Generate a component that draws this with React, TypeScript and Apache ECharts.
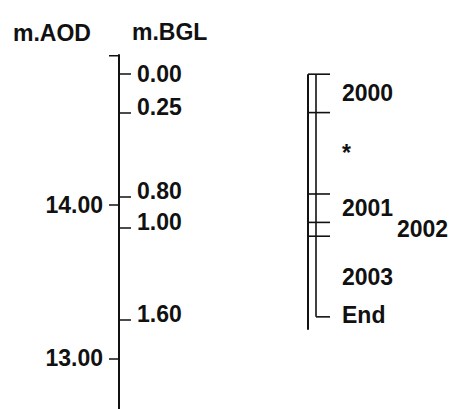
import React, { useEffect, useRef } from 'react';
import * as echarts from 'echarts';

// Ground level of the section, in metres above Ordnance Datum
const groundLevelAOD = 14.85;
// Depth range shown (metres below ground level)
const depthMin = -0.125;
const depthMax = 2.18;
// Depth ticks (m.BGL)
const bglTicks = [0, 0.25, 0.8, 1.0, 1.6];
// Level ticks (m.AOD)
const aodTicks = [14, 13];
// Dated layers: label and top depth (m.BGL)
const yearLabels = ['2000', '*', '2001', '2002', '2003'];
const yearTops = [0, 0.25, 0.78, 0.965, 1.055];
const yearEnd = 1.58;
const endLabel = 'End';

const FONT = '"Liberation Sans", Arial, Helvetica, sans-serif';
const INK = '#111';
const FS = 23;
const FW = 'bold';

export default function App() {
  const ref = useRef<HTMLDivElement>(null);
  useEffect(() => {
    if (!ref.current) return;
    const chart = echarts.init(ref.current, null, { renderer: 'svg' });
    const aodMax = groundLevelAOD - depthMin;
    const aodMin = groundLevelAOD - depthMax;

    const layerData = yearLabels.map((lab, i) => [
      yearTops[i],
      i + 1 < yearTops.length ? yearTops[i + 1] : yearEnd,
      lab,
      i,
    ]);
    layerData.push([yearEnd, yearEnd, endLabel, -1]);

    const option: any = {
      animation: false,
      backgroundColor: '#fff',
      grid: [
        { left: 119, top: 55, width: 1, bottom: 0 },
        { left: 308, top: 55, width: 8, bottom: 0 },
      ],
      xAxis: [
        { gridIndex: 0, type: 'value', show: false, min: 0, max: 1 },
        { gridIndex: 1, type: 'value', show: false, min: 0, max: 1 },
      ],
      yAxis: [
        {
          gridIndex: 0,
          type: 'value',
          inverse: true,
          min: depthMin,
          max: depthMax,
          position: 'right',
          axisLine: { show: true, lineStyle: { color: INK, width: 2 } },
          axisTick: {
            show: true,
            customValues: bglTicks,
            length: 12,
            lineStyle: { color: INK, width: 1.5 },
          },
          axisLabel: {
            show: true,
            customValues: bglTicks,
            margin: 17,
            formatter: (v: number) => {
              const s = v.toFixed(2);
              return v === 0 ? '{a|' + s + '}' : '{b|' + s + '}';
            },
            rich: {
              a: { fontSize: FS, fontWeight: FW, fontFamily: FONT, color: INK },
              b: { fontSize: FS, fontWeight: FW, fontFamily: FONT, color: INK, padding: [0, 0, 12, 0] },
            },
          },
          splitLine: { show: false },
        },
        {
          gridIndex: 0,
          type: 'value',
          min: aodMin,
          max: aodMax,
          position: 'left',
          axisLine: { show: false },
          axisTick: {
            show: true,
            customValues: aodTicks,
            length: 10,
            lineStyle: { color: INK, width: 1.5 },
          },
          axisLabel: {
            show: true,
            customValues: aodTicks,
            margin: 16,
            formatter: (v: number) => v.toFixed(2),
            fontSize: FS,
            fontWeight: FW,
            fontFamily: FONT,
            color: INK,
          },
          splitLine: { show: false },
        },
        {
          gridIndex: 1,
          type: 'value',
          inverse: true,
          min: depthMin,
          max: depthMax,
          show: false,
        },
      ],
      graphic: [
        {
          type: 'text',
          left: 13,
          top: 21,
          style: { text: 'm.AOD', fontSize: FS, fontWeight: FW, fontFamily: FONT, fill: INK },
        },
        {
          type: 'text',
          left: 132,
          top: 20,
          style: { text: 'm.BGL', fontSize: FS, fontWeight: FW, fontFamily: FONT, fill: INK },
        },
      ],
      series: [
        {
          // top bracket of the level/depth scale
          type: 'custom',
          xAxisIndex: 0,
          yAxisIndex: 0,
          clip: false,
          data: [[0, depthMin]],
          renderItem: (params: any, api: any) => {
            const p = api.coord([0, api.value(1)]);
            return {
              type: 'line',
              shape: { x1: p[0] - 10, y1: p[1] + 0.75, x2: p[0] + 1, y2: p[1] + 0.75 },
              style: { stroke: INK, lineWidth: 1.5 },
            };
          },
        },
        {
          type: 'custom',
          xAxisIndex: 1,
          yAxisIndex: 2,
          clip: false,
          data: layerData,
          renderItem: (params: any, api: any) => {
            const top = api.value(0);
            const bot = api.value(1);
            const idx = api.value(3);
            const label = layerData[params.dataIndex][2] as string;
            const pTop = api.coord([0, top]);
            const pBot = api.coord([0, bot]);
            const xL = pTop[0];
            const xR = api.coord([1, top])[0];
            const tickEnd = xR + 14;
            const children: any[] = [];
            const lineStyle = { stroke: INK, lineWidth: 1.6 };
            if (idx === 0) {
              const pEnd = api.coord([0, yearEnd]);
              children.push({
                type: 'line',
                shape: { x1: xL, y1: pTop[1], x2: xL, y2: pEnd[1] + 13 },
                style: { stroke: INK, lineWidth: 2 },
              });
              children.push({
                type: 'line',
                shape: { x1: xR, y1: pTop[1], x2: xR, y2: pEnd[1] },
                style: { stroke: INK, lineWidth: 1.6 },
              });
            }
            children.push({
              type: 'line',
              shape: { x1: idx === -1 ? xR : xL, y1: pTop[1], x2: tickEnd, y2: pTop[1] },
              style: lineStyle,
            });
            const h = pBot[1] - pTop[1];
            let lx = tickEnd + 12;
            if (idx !== -1 && h < 20) lx += 55;
            const ly = idx === -1 ? pTop[1] - 2 : (pTop[1] + pBot[1]) / 2;
            children.push({
              type: 'text',
              style: {
                text: label,
                x: lx,
                y: ly,
                verticalAlign: 'middle',
                align: 'left',
                fontSize: FS,
                fontWeight: FW,
                fontFamily: FONT,
                fill: INK,
              },
            });
            return { type: 'group', children };
          },
        },
      ],
    };
    chart.setOption(option);
    return () => chart.dispose();
  }, []);
  return (
    <div
      ref={ref}
      style={{ position: 'absolute', left: 0, top: 0, width: 457, height: 409, background: '#fff' }}
    />
  );
}
